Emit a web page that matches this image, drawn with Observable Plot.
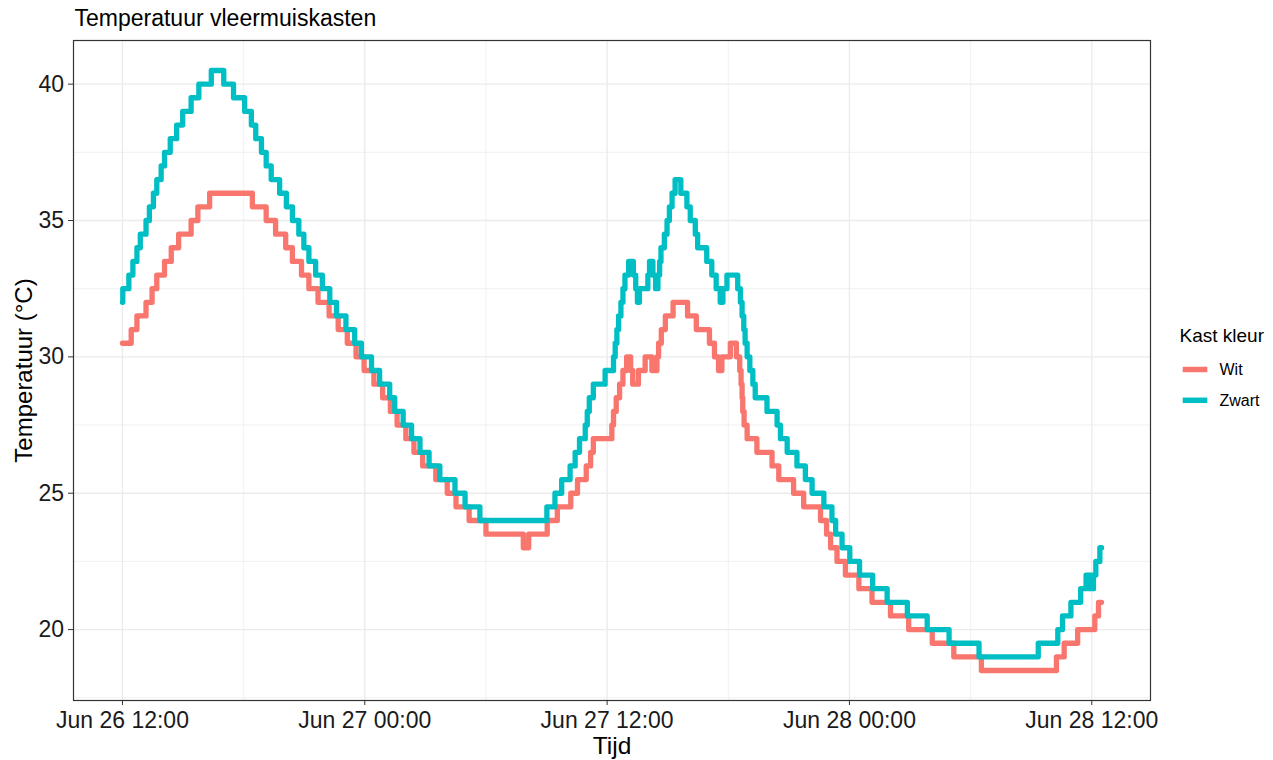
<!DOCTYPE html>
<html>
<head>
<meta charset="utf-8">
<script src="https://cdn.jsdelivr.net/npm/d3@7"></script>
<script src="https://cdn.jsdelivr.net/npm/@observablehq/plot@0.6"></script>
<style>
  html, body { margin: 0; padding: 0; background: #fff; }
  #wrap { position: relative; width: 1273px; height: 760px; }
  #legend { position: absolute; left: 0; top: 0; pointer-events: none; }
</style>
</head>
<body>
<div id="wrap"></div>
<script>
// ---- Data (change points of the logged temperature, °C) ----
const series = ["Wit", "Zwart"];
const seriesColors = ["#F8766D", "#00BFC4"];

const witTimes = [
  "06-26 12:00","06-26 12:26","06-26 12:43","06-26 13:10","06-26 13:28","06-26 13:42","06-26 14:05","06-26 14:25",
  "06-26 14:47","06-26 15:24","06-26 15:44","06-26 16:19","06-26 18:26","06-26 19:07","06-26 19:35","06-26 20:05",
  "06-26 20:25","06-26 20:52","06-26 21:14","06-26 21:41","06-26 22:14","06-26 22:41","06-26 23:08","06-26 23:34",
  "06-26 23:58","06-27 00:27","06-27 00:53","06-27 01:16","06-27 01:36","06-27 02:02","06-27 02:26","06-27 02:52",
  "06-27 03:31","06-27 04:05","06-27 04:31","06-27 05:10","06-27 06:00","06-27 07:51","06-27 08:07","06-27 09:02",
  "06-27 09:32","06-27 10:12","06-27 10:32","06-27 10:58","06-27 11:11","06-27 11:19","06-27 12:14","06-27 12:19",
  "06-27 12:27","06-27 12:37","06-27 12:47","06-27 12:58","06-27 13:10","06-27 13:16","06-27 13:33","06-27 13:53",
  "06-27 14:13","06-27 14:28","06-27 14:33","06-27 14:41","06-27 14:53","06-27 15:16","06-27 15:59","06-27 16:25",
  "06-27 17:04","06-27 17:19","06-27 17:31","06-27 17:41","06-27 18:06","06-27 18:24","06-27 18:34","06-27 18:38",
  "06-27 18:41","06-27 18:43","06-27 18:47","06-27 18:56","06-27 19:25","06-27 20:10","06-27 20:30","06-27 21:14",
  "06-27 21:44","06-27 22:34","06-27 22:52","06-27 23:04","06-27 23:23","06-27 23:48","06-28 00:28","06-28 01:07",
  "06-28 02:02","06-28 02:56","06-28 04:06","06-28 05:10","06-28 06:32","06-28 10:15","06-28 10:38","06-28 11:18",
  "06-28 12:09","06-28 12:20","06-28 12:29"
];
const witTemps = [
  30.5,31,31.5,32,32.5,33,33.5,34,
  34.5,35,35.5,36,35.5,35,34.5,34,
  33.5,33,32.5,32,31.5,31,30.5,30,
  29.5,29,28.5,28,27.5,27,26.5,26,
  25.5,25,24.5,24,23.5,23,23.5,24,
  24.5,25,25.5,26,26.5,27,27.5,28,
  28.5,29,29.5,30,29.5,29,29.5,30,
  29.5,30,30.5,31,31.5,32,31.5,31,
  30.5,30,29.5,30,30.5,30,29.5,29,
  28.5,28,27.5,27,26.5,26,25.5,25,
  24.5,24,23.5,23,22.5,22,21.5,21,
  20.5,20,19.5,19,18.5,19,19.5,20,
  20.5,21,21
];

const zwartTimes = [
  "06-26 12:00","06-26 12:01","06-26 12:19","06-26 12:31","06-26 12:43","06-26 12:53","06-26 13:10","06-26 13:20",
  "06-26 13:32","06-26 13:42","06-26 13:55","06-26 14:05","06-26 14:22","06-26 14:41","06-26 14:59","06-26 15:24",
  "06-26 15:47","06-26 16:24","06-26 17:01","06-26 17:30","06-26 18:03","06-26 18:23","06-26 18:36","06-26 18:53",
  "06-26 19:07","06-26 19:22","06-26 19:47","06-26 20:07","06-26 20:25","06-26 20:44","06-26 20:59","06-26 21:14",
  "06-26 21:34","06-26 21:54","06-26 22:16","06-26 22:36","06-26 23:04","06-26 23:30","06-26 23:50","06-27 00:20",
  "06-27 00:44","06-27 01:14","06-27 01:29","06-27 01:54","06-27 02:19","06-27 02:44","06-27 03:11","06-27 03:43",
  "06-27 04:28","06-27 04:58","06-27 05:42","06-27 09:01","06-27 09:25","06-27 09:45","06-27 10:10","06-27 10:25",
  "06-27 10:38","06-27 10:55","06-27 11:01","06-27 11:07","06-27 11:19","06-27 11:54","06-27 12:19","06-27 12:24",
  "06-27 12:29","06-27 12:34","06-27 12:41","06-27 12:47","06-27 12:53","06-27 13:04","06-27 13:18","06-27 13:25",
  "06-27 13:30","06-27 13:36","06-27 14:01","06-27 14:06","06-27 14:16","06-27 14:24","06-27 14:31","06-27 14:36",
  "06-27 14:40","06-27 14:50","06-27 14:58","06-27 15:05","06-27 15:13","06-27 15:22","06-27 15:39","06-27 15:57",
  "06-27 16:07","06-27 16:22","06-27 16:29","06-27 16:56","06-27 17:11","06-27 17:24","06-27 17:36","06-27 17:44",
  "06-27 17:56","06-27 18:28","06-27 18:36","06-27 18:41","06-27 18:46","06-27 18:50","06-27 18:56","06-27 19:04",
  "06-27 19:13","06-27 19:20","06-27 19:55","06-27 20:25","06-27 20:35","06-27 20:55","06-27 21:24","06-27 21:49",
  "06-27 22:09","06-27 22:44","06-27 23:08","06-27 23:19","06-27 23:38","06-28 00:01","06-28 00:30","06-28 01:09",
  "06-28 01:52","06-28 02:52","06-28 03:51","06-28 04:56","06-28 06:25","06-28 09:21","06-28 10:19","06-28 10:33",
  "06-28 10:58","06-28 11:27","06-28 11:43","06-28 11:52","06-28 11:55","06-28 12:02","06-28 12:05","06-28 12:12",
  "06-28 12:24","06-28 12:29"
];
const zwartTemps = [
  32,32.5,33,33.5,34,34.5,35,35.5,
  36,36.5,37,37.5,38,38.5,39,39.5,
  40,40.5,40,39.5,39,38.5,38,37.5,
  37,36.5,36,35.5,35,34.5,34,33.5,
  33,32.5,32,31.5,31,30.5,30,29.5,
  29,28.5,28,27.5,27,26.5,26,25.5,
  25,24.5,24,24.5,25,25.5,26,26.5,
  27,27.5,28,28.5,29,29.5,30,30.5,
  31,31.5,32,32.5,33,33.5,33,32.5,
  32,32.5,33,33.5,33,32.5,33,33.5,
  34,34.5,35,35.5,36,36.5,36,35.5,
  35,34.5,34,33.5,33,32.5,32,32.5,
  33,32.5,32,31.5,31,30.5,30,29.5,
  29,28.5,28,27.5,27,26.5,26,25.5,
  25,24.5,24,23.5,23,22.5,22,21.5,
  21,20.5,20,19.5,19,19.5,20,20.5,
  21,21.5,22,21.5,22,21.5,22,22.5,
  23,23
];

const yMajorTicks = [20, 25, 30, 35, 40];
const yMinorTicks = [17.5, 22.5, 27.5, 32.5, 37.5];
const titleText = "Temperatuur vleermuiskasten";
const xTitle = "Tijd";
const yTitle = "Temperatuur (°C)";
const legendTitle = "Kast kleur";

// ---- Build table ----
const parse = d3.utcParse("%m-%d %H:%M");
const rows = [
  ...witTimes.map((t, i) => ({kast: series[0], time: parse(t), temp: witTemps[i]})),
  ...zwartTimes.map((t, i) => ({kast: series[1], time: parse(t), temp: zwartTemps[i]}))
];

const tExt = d3.extent(rows, d => d.time);
const tPad = (tExt[1] - tExt[0]) * 0.05;
const xDomain = [new Date(+tExt[0] - tPad), new Date(+tExt[1] + tPad)];
const yExt = d3.extent(rows, d => d.temp);
const yPad = (yExt[1] - yExt[0]) * 0.05;
const yDomain = [yExt[0] - yPad, yExt[1] + yPad];

const xMajor = d3.utcHour.every(12).range(xDomain[0], xDomain[1]);
const xMinor = d3.utcHour.every(6).range(xDomain[0], xDomain[1]).filter(d => d.getUTCHours() % 12 !== 0);

const font = "'Liberation Sans', Arial, Helvetica, sans-serif";

const chart = Plot.plot({
  width: 1273,
  height: 760,
  marginLeft: 73,
  marginRight: 123,
  marginTop: 40,
  marginBottom: 60,
  style: {fontFamily: font, background: "#fff", overflow: "visible"},
  x: {type: "utc", domain: xDomain},
  y: {domain: yDomain},
  marks: [
    Plot.gridX(xMinor, {stroke: "#EBEBEB", strokeOpacity: 1, strokeWidth: 0.7}),
    Plot.gridY(yMinorTicks, {stroke: "#EBEBEB", strokeOpacity: 1, strokeWidth: 0.7}),
    Plot.gridX(xMajor, {stroke: "#EBEBEB", strokeOpacity: 1, strokeWidth: 1.3}),
    Plot.gridY(yMajorTicks, {stroke: "#EBEBEB", strokeOpacity: 1, strokeWidth: 1.3}),
    ...series.map((s, i) => Plot.line(rows.filter(d => d.kast === s), {
      x: "time", y: "temp", curve: "step-after",
      stroke: seriesColors[i], strokeWidth: 5.3, strokeLinejoin: "round"
    })),
    Plot.frame({stroke: "#333333", strokeWidth: 1.2}),
    Plot.axisX(xMajor, {
      tickFormat: d3.utcFormat("%b %d %H:%M"), tickSize: 5, tickPadding: 6,
      fontSize: 23, label: null, stroke: "#333333", fill: "#1a1a1a"
    }),
    Plot.axisY(yMajorTicks, {
      tickSize: 5, tickPadding: 4.5, fontSize: 23, label: null, stroke: "#333333", fill: "#1a1a1a"
    }),
    Plot.text([xTitle], {text: d => d, frameAnchor: "bottom", lineAnchor: "middle", textAnchor: "middle",
      dy: 46, fontSize: 24.5, fill: "#000"}),
    Plot.text([yTitle], {text: d => d, frameAnchor: "left", lineAnchor: "middle", textAnchor: "middle",
      dx: -49, rotate: -90, fontSize: 24, fill: "#000"}),
    Plot.text([titleText], {text: d => d, frameAnchor: "top-left", lineAnchor: "middle", textAnchor: "start",
      dx: 1, dy: -21.4, fontSize: 23, fill: "#000"})
  ]
});

const wrap = document.getElementById("wrap");
wrap.appendChild(chart);

// ---- Legend ----
const leg = d3.select(wrap).append("svg")
  .attr("id", "legend").attr("width", 1273).attr("height", 760)
  .style("font-family", font);
leg.append("text").attr("x", 1179.5).attr("y", 342.3)
  .attr("font-size", 19).attr("fill", "#000").text(legendTitle);
series.forEach((s, i) => {
  const cy = 369.5 + i * 30.8;
  leg.append("line").attr("x1", 1182.7).attr("x2", 1207.3).attr("y1", cy).attr("y2", cy)
    .attr("stroke", seriesColors[i]).attr("stroke-width", 5.5);
  leg.append("text").attr("x", 1219.5).attr("y", cy).attr("dy", "0.36em")
    .attr("font-size", 16).attr("fill", "#000").text(s);
});
</script>
</body>
</html>
